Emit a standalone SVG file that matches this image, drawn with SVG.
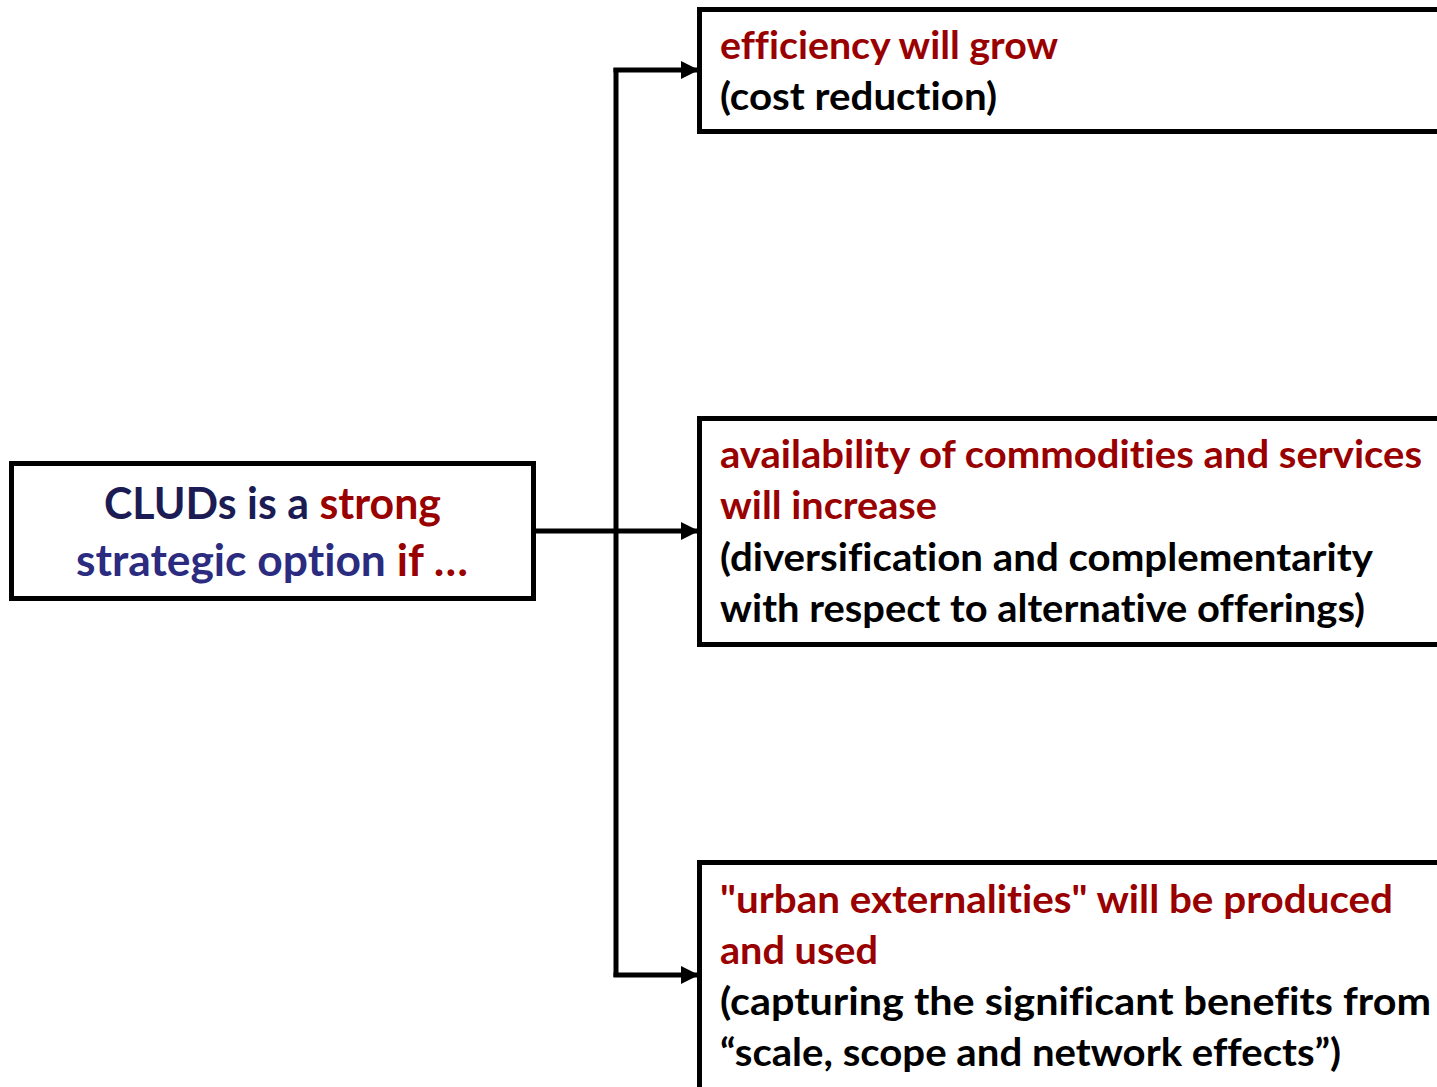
<svg xmlns="http://www.w3.org/2000/svg" width="1437" height="1087" viewBox="0 0 1437 1087">
<defs>
<marker id="arr" markerWidth="18" markerHeight="18" refX="17" refY="9" orient="auto" markerUnits="userSpaceOnUse">
<path d="M0,0 L18,9 L0,18 Z" fill="#000"/>
</marker>
<style>
.box{fill:#fff;stroke:#000;stroke-width:5}
.t{font-family:Lato,"Open Sans","Liberation Sans",sans-serif;font-weight:bold;font-size:39px;font-variant-ligatures:none;font-feature-settings:"liga" 0,"clig" 0,"dlig" 0,"calt" 0}
.big{font-size:44px}
.red{fill:#990000}
.blk{fill:#000}
.nv1{fill:#1c1c55}
.nv2{fill:#2b2b7f}
.ln{fill:none;stroke:#000;stroke-width:5}
</style>
</defs>
<rect width="1437" height="1087" fill="#fff"/>
<g id="connectors">
<line class="ln" x1="536" y1="531" x2="616" y2="531"/>
<line class="ln" x1="616" y1="68" x2="616" y2="977"/>
<polyline class="ln" points="613.5,70 698,70" marker-end="url(#arr)"/>
<polyline class="ln" points="616,531 698,531" marker-end="url(#arr)"/>
<polyline class="ln" points="613.5,975 698,975" marker-end="url(#arr)"/>
</g>
<g id="node-main">
<rect class="box" x="11.5" y="463.5" width="522" height="135"/>
<text class="t big" x="104" y="519" textLength="337" lengthAdjust="spacingAndGlyphs"><tspan class="nv1">CLUDs is a </tspan><tspan class="red">strong</tspan></text>
<text class="t big" x="76" y="576" textLength="392" lengthAdjust="spacingAndGlyphs"><tspan class="nv2">strategic option </tspan><tspan class="red">if …</tspan></text>
</g>
<g id="node-efficiency">
<rect class="box" x="699.5" y="9.5" width="760" height="122"/>
<text class="t red" x="720" y="59" textLength="338" lengthAdjust="spacingAndGlyphs">efficiency will grow</text>
<text class="t blk" x="720" y="110" textLength="277" lengthAdjust="spacingAndGlyphs">(cost reduction)</text>
</g>
<g id="node-availability">
<rect class="box" x="699.5" y="418.5" width="760" height="226"/>
<text class="t red" x="720" y="468" textLength="702" lengthAdjust="spacingAndGlyphs">availability of commodities and services</text>
<text class="t red" x="720" y="519" textLength="217" lengthAdjust="spacingAndGlyphs">will increase</text>
<text class="t blk" x="720" y="571" textLength="653" lengthAdjust="spacingAndGlyphs">(diversification and complementarity</text>
<text class="t blk" x="720" y="622" textLength="645" lengthAdjust="spacingAndGlyphs">with respect to alternative offerings)</text>
</g>
<g id="node-externalities">
<rect class="box" x="699.5" y="862.5" width="760" height="260"/>
<text class="t red" x="720" y="913" textLength="673" lengthAdjust="spacingAndGlyphs">"urban externalities" will be produced</text>
<text class="t red" x="720" y="964" textLength="158" lengthAdjust="spacingAndGlyphs">and used</text>
<text class="t blk" x="720" y="1015" textLength="711" lengthAdjust="spacingAndGlyphs">(capturing the significant benefits from</text>
<text class="t blk" x="720" y="1066" textLength="621" lengthAdjust="spacingAndGlyphs">“scale, scope and network effects”)</text>
</g>
</svg>
